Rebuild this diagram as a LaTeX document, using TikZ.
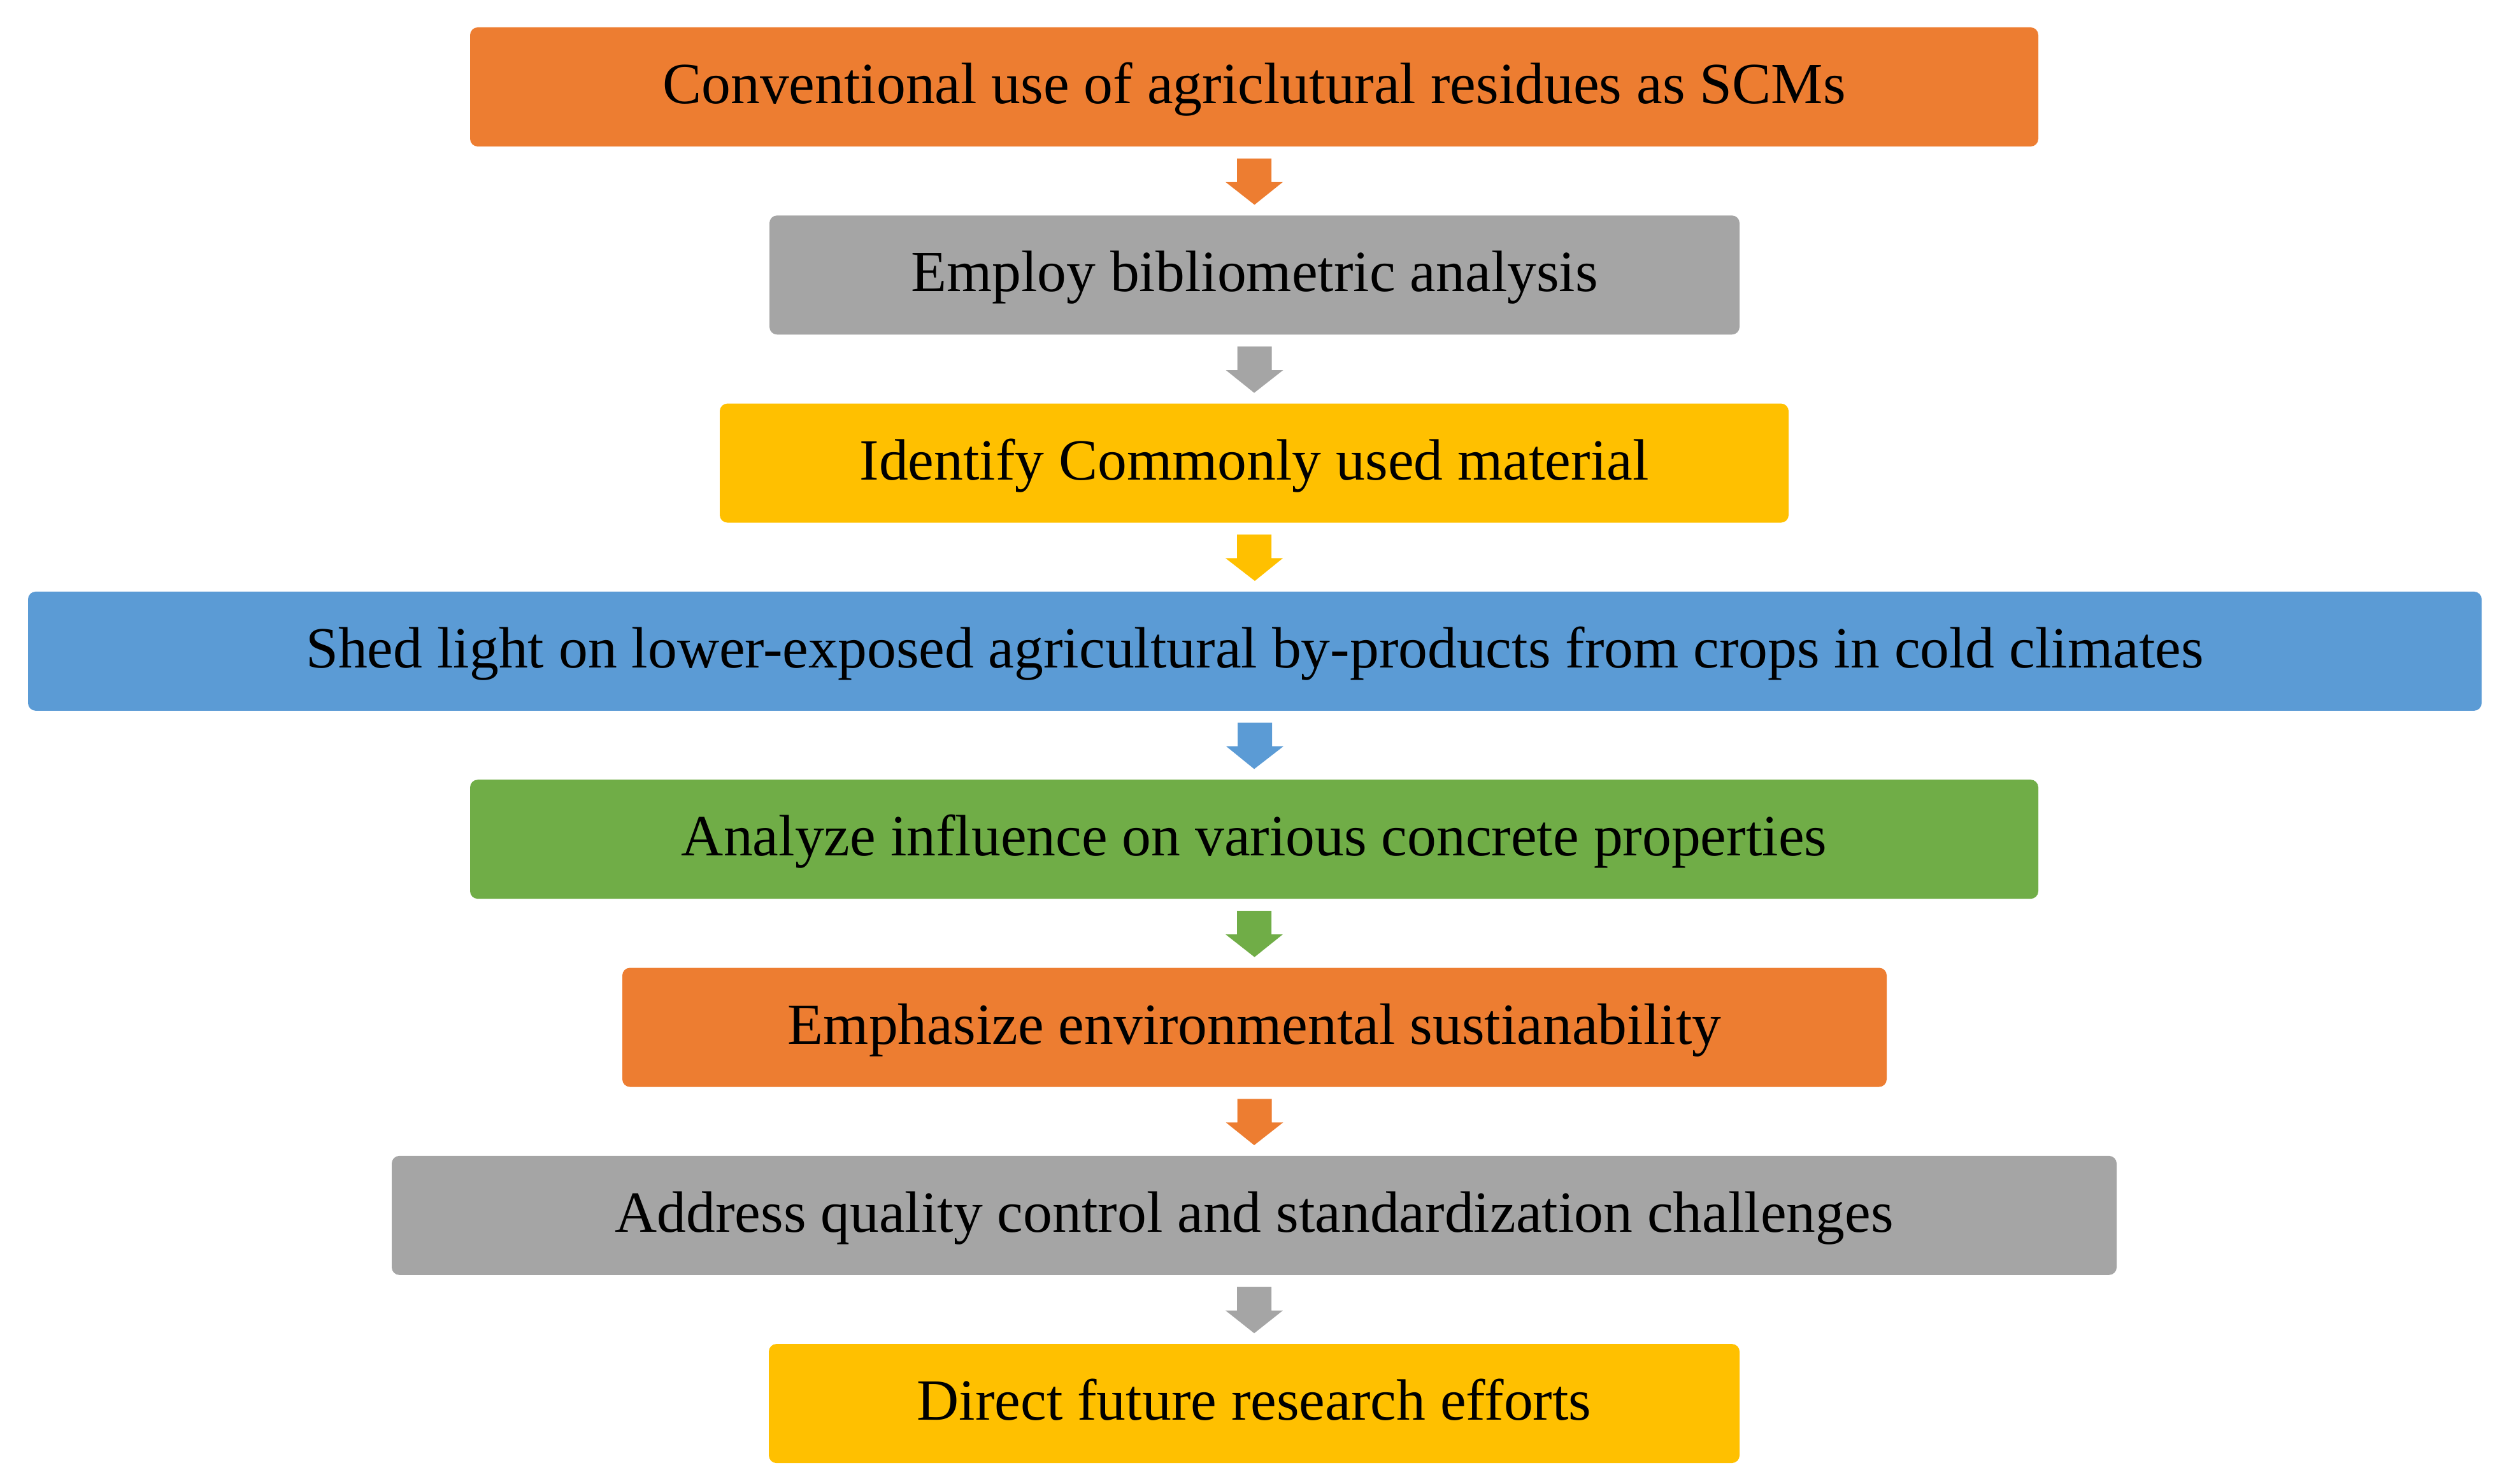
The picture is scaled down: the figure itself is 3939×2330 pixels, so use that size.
\documentclass[tikz,border=0pt]{standalone}
\usepackage{fontspec}
\setmainfont{Liberation Serif}
\usetikzlibrary{calc}
\definecolor{cOrange}{HTML}{ED7D31}
\definecolor{cGray}{HTML}{A5A5A5}
\definecolor{cYellow}{HTML}{FFC000}
\definecolor{cBlue}{HTML}{5B9BD5}
\definecolor{cGreen}{HTML}{70AD47}
\tikzset{
  stepbox/.style={rectangle, rounded corners=3pt, inner sep=0pt,
    minimum height=46.75pt, text height=13pt, text depth=0pt,
    font=\fontsize{22.9}{27}\selectfont, text=black},
}
\newcommand\flowarrow[3]{%
  \fill[#1] ($(#2.south)+(-27,18)$) -- ($(#2.south)+(27,18)$) -- ($(#2.south)+(27,55)$)
    -- ($(#2.south)+(45,55)$) -- ($(#3.north)+(0,-16)$) -- ($(#2.south)+(-45,55)$)
    -- ($(#2.south)+(-27,55)$) -- cycle;}
\begin{document}
\begin{tikzpicture}[x=0.25pt,y=-0.25pt]
\useasboundingbox (0,0) rectangle (3939,2330);
\node[stepbox, fill=cOrange, minimum width=615.5pt] (b1) at (1969,136.5) {Conventional use of agriclutural residues as SCMs};
\node[stepbox, fill=cGray, minimum width=380.75pt] (b2) at (1969.5,431.8) {Employ bibliometric analysis};
\node[stepbox, fill=cYellow, minimum width=419.5pt] (b3) at (1969,727.1) {Identify Commonly used material};
\node[stepbox, fill=cBlue, minimum width=963pt] (b4) at (1970,1022.4) {Shed light on lower-exposed agricultural by-products from crops in cold climates};
\node[stepbox, fill=cGreen, minimum width=615.5pt] (b5) at (1969,1317.7) {Analyze influence on various concrete properties};
\node[stepbox, fill=cOrange, minimum width=496.25pt] (b6) at (1969.5,1613) {Emphasize environmental sustianability};
\node[stepbox, fill=cGray, minimum width=677pt] (b7) at (1969,1908.3) {Address quality control and standardization challenges};
\node[stepbox, fill=cYellow, minimum width=381pt] (b8) at (1969,2203.6) {Direct future research efforts};
\flowarrow{cOrange}{b1}{b2}
\flowarrow{cGray}{b2}{b3}
\flowarrow{cYellow}{b3}{b4}
\flowarrow{cBlue}{b4}{b5}
\flowarrow{cGreen}{b5}{b6}
\flowarrow{cOrange}{b6}{b7}
\flowarrow{cGray}{b7}{b8}
\end{tikzpicture}
\end{document}
